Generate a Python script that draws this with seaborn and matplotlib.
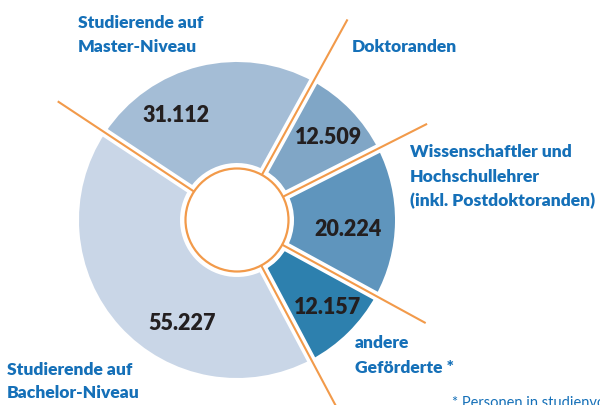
import numpy as np
import seaborn as sns
import matplotlib.pyplot as plt

# data, clockwise from the lower right
groups = ['Studierende auf Bachelor-Niveau', 'Studierende auf Master-Niveau',
          'Doktoranden', 'Wissenschaftler und Hochschullehrer (inkl. Postdoktoranden)',
          'andere Geförderte *']
values = [55227, 31112, 12509, 20224, 12157]
colors = ['#c9d6e7', '#a4bdd6', '#80a6c6', '#5f95bd', '#2d80ae']

# label text, line by line
label_lines = [['Studierende auf', 'Bachelor-Niveau'],
               ['Studierende auf', 'Master-Niveau'],
               ['Doktoranden'],
               ['Wissenschaftler und', 'Hochschullehrer', '(inkl. Postdoktoranden)'],
               ['andere', 'Geförderte *']]
footnote = '* Personen in studienvorbereitenden Maßnahmen'

# layout (image pixels, y from top)
label_xy = [(7, [375, 398.5]), (78, [28, 52]), (352, [52]),
            (410, [157, 181.5, 206]), (355, [348, 373])]
number_xy = [(182, 324), (176, 116), (328, 137), (348, 230), (328, 307)]
line_len = [240, 215, 229, 213, 215]   # orange line length at start of each slice
cx, cy = 237, 220
r_out, r_in, r_ring = 158, 57, 51.5
start = -62

orange = '#f29a4a'
blue = '#1570b8'
dark = '#231f20'

sns.set_theme(style='white')
plt.rcParams['font.family'] = ['Lato', 'DejaVu Sans']

H = 405
fig = plt.figure(figsize=(6, 4.05), dpi=100)
ax = fig.add_axes([0, 0, 1, 1])

ax.pie(values, colors=colors, startangle=start, counterclock=False,
       radius=r_out, center=(cx, H - cy),
       wedgeprops=dict(width=r_out - r_in, linewidth=0))

# separators
total = sum(values)
bounds = start - 360 * np.concatenate([[0], np.cumsum(values)[:-1]]) / total
for ang, ln in zip(bounds, line_len):
    t = np.deg2rad(ang)
    ax.plot([cx + (r_in - 3) * np.cos(t), cx + (r_out + 4) * np.cos(t)],
            [H - cy + (r_in - 3) * np.sin(t), H - cy + (r_out + 4) * np.sin(t)],
            color='white', lw=6.5, solid_capstyle='butt', zorder=3)
    ax.plot([cx + r_ring * np.cos(t), cx + ln * np.cos(t)],
            [H - cy + r_ring * np.sin(t), H - cy + ln * np.sin(t)],
            color=orange, lw=1.5, solid_capstyle='butt', zorder=4)

ring = plt.Circle((cx, H - cy), r_ring, facecolor='white', edgecolor=orange,
                  lw=1.6, zorder=5)
ax.add_patch(ring)

for v, (x, y) in zip(values, number_xy):
    ax.text(x, H - y, f'{v:,}'.replace(',', '.'), ha='center', va='center',
            fontsize=15.5, fontweight='heavy', color=dark, zorder=6)

for lines, (x, ys) in zip(label_lines, label_xy):
    for s, y in zip(lines, ys):
        ax.text(x, H - y, s, ha='left', va='baseline', fontsize=12.6,
                fontweight='heavy', color=blue)

# footnote runs off the right edge, as in the source
ax.text(452, H - 407, footnote, ha='left', va='baseline', fontsize=10.5,
        color=blue)

ax.set_xlim(0, 600)
ax.set_ylim(0, H)
ax.set_aspect('equal')
ax.axis('off')

plt.savefig('out.png', dpi=100)
